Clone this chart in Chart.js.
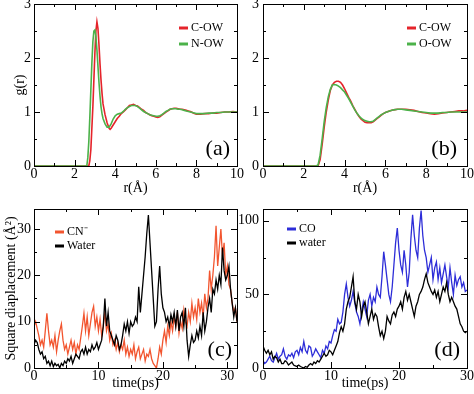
<!DOCTYPE html>
<html>
<head>
<meta charset="utf-8">
<script src="https://cdn.jsdelivr.net/npm/chart.js@4.4.0/dist/chart.umd.min.js"></script>
<style>
  html, body { margin: 0; padding: 0; background: #fff; }
  body { width: 474px; height: 394px; position: relative; overflow: hidden; }
  canvas { position: absolute; }
</style>
</head>
<body>
<canvas id="chartA" width="250" height="200" style="left:0;top:0"></canvas>
<canvas id="chartB" width="237" height="200" style="left:237px;top:0"></canvas>
<canvas id="chartC" width="250" height="194" style="left:0;top:200px"></canvas>
<canvas id="chartD" width="237" height="194" style="left:237px;top:200px"></canvas>
<script>
// Panel (a): g(r) for CN- (C-OW, N-OW)
const rA = [0, 2.6, 2.65, 2.7, 2.75, 2.8, 2.85, 2.9, 2.95, 3.0, 3.05, 3.1, 3.15, 3.2, 3.25, 3.3, 3.35, 3.4, 3.5, 3.6, 3.7, 3.75, 3.8, 3.9,
  4.0, 4.1, 4.2, 4.3, 4.4, 4.5, 4.6, 4.7, 4.8, 4.9, 5.0, 5.1, 5.2, 5.3, 5.4, 5.5, 5.6, 5.7, 5.8, 5.9, 6.0, 6.1, 6.2, 6.3, 6.4,
  6.5, 6.6, 6.7, 6.8, 6.9, 7.0, 7.1, 7.2, 7.3, 7.4, 7.5, 7.6, 7.7, 7.8, 7.9, 8.0, 8.2, 8.4, 8.6, 8.8, 9.0, 9.2, 9.4, 9.6, 9.8, 10];
const gCOW_a = [0, 0, 0, 0, 0.1, 0.3, 0.7, 1.1, 1.6, 2.1, 2.5, 2.67, 2.55, 2.25, 1.9, 1.6, 1.35, 1.15, 0.95, 0.8, 0.7, 0.68, 0.7, 0.76,
  0.82, 0.88, 0.92, 0.97, 1.0, 1.04, 1.08, 1.12, 1.13, 1.14, 1.12, 1.11, 1.08, 1.05, 1.03, 0.99, 0.97, 0.95, 0.93, 0.92, 0.91, 0.9, 0.91, 0.94, 0.97,
  1.0, 1.02, 1.05, 1.06, 1.07, 1.07, 1.06, 1.05, 1.05, 1.04, 1.03, 1.02, 1.01, 0.99, 0.97, 0.96, 0.96, 0.97, 0.97, 0.98, 0.98, 0.99, 1.0, 1.0, 1.01, 1.0];
const gNOW_a = [0, 0, 0.15, 0.45, 0.9, 1.4, 1.9, 2.3, 2.5, 2.52, 2.4, 2.15, 1.85, 1.55, 1.3, 1.1, 0.97, 0.88, 0.78, 0.72, 0.72, 0.75, 0.78, 0.87,
  0.93, 0.96, 0.97, 0.98, 1.01, 1.05, 1.08, 1.1, 1.12, 1.12, 1.12, 1.1, 1.07, 1.04, 1.01, 0.99, 0.97, 0.95, 0.94, 0.93, 0.92, 0.92, 0.93, 0.95, 0.98,
  1.01, 1.03, 1.05, 1.06, 1.06, 1.06, 1.05, 1.05, 1.04, 1.03, 1.02, 1.01, 1.0, 0.99, 0.98, 0.97, 0.97, 0.97, 0.98, 0.98, 0.99, 0.99, 1.0, 1.0, 1.0, 1.0];

// Panel (b): g(r) for CO (C-OW, O-OW)
const rB = [0, 2.6, 2.7, 2.8, 2.9, 3.0, 3.1, 3.2, 3.3, 3.4, 3.5, 3.6, 3.7, 3.8, 3.9, 4.0, 4.1, 4.2, 4.3, 4.4, 4.5, 4.6, 4.7, 4.8, 4.9,
  5.0, 5.1, 5.2, 5.3, 5.4, 5.5, 5.6, 5.7, 5.8, 5.9, 6.0, 6.2, 6.4, 6.6, 6.8, 7.0, 7.2, 7.4, 7.6, 7.8, 8.0, 8.2, 8.4, 8.6, 8.8, 9.0, 9.2, 9.4, 9.6, 9.8, 10];
const gCOW_b = [0, 0, 0, 0.12, 0.4, 0.72, 1.0, 1.22, 1.4, 1.5, 1.55, 1.57, 1.57, 1.55, 1.5, 1.43, 1.35, 1.27, 1.2, 1.12, 1.05, 0.98, 0.92, 0.87, 0.84,
  0.81, 0.8, 0.8, 0.8, 0.82, 0.85, 0.88, 0.91, 0.94, 0.97, 0.99, 1.02, 1.04, 1.05, 1.05, 1.05, 1.04, 1.03, 1.01, 0.99, 0.98, 0.97, 0.96, 0.97, 0.98, 0.99, 1.0, 1.01, 1.02, 1.02, 1.03];
const gOOW_b = [0, 0, 0.02, 0.2, 0.5, 0.82, 1.08, 1.28, 1.42, 1.5, 1.51, 1.5, 1.48, 1.45, 1.41, 1.37, 1.31, 1.25, 1.18, 1.11, 1.04, 0.98, 0.93, 0.89, 0.86,
  0.84, 0.83, 0.82, 0.82, 0.83, 0.86, 0.89, 0.92, 0.95, 0.97, 0.99, 1.02, 1.04, 1.05, 1.05, 1.04, 1.03, 1.02, 1.01, 1.0, 0.99, 0.98, 0.98, 0.98, 0.99, 0.99, 1.0, 1.0, 1.0, 1.0, 1.0];

// Panel (c): square displacement, CN- vs water (sampled every 0.25 ps)
const dtC = 0.25;
const sdCN = [9, 10, 8.5, 7, 5, 6, 4.5, 8, 11.8, 8, 5, 6, 4.5, 7, 3.5, 6, 8, 9.5, 6, 4, 5, 3, 4.5, 6, 4, 5.5, 3, 5,
  4, 6.5, 9, 11.8, 8, 11, 7, 9.5, 12, 13.3, 9, 11, 8, 10.5, 7, 9, 12, 8, 9.5, 6, 7.5, 5, 6, 4, 5.5, 3.5, 5, 4,
  6, 3, 4.5, 2.5, 4, 3, 5, 2, 3.5, 4.5, 2, 3, 4, 1.5, 3, 2.5, 4, 2, 1, 0.5, 0, 2, 4.5, 3,
  6, 8, 5.5, 9, 7, 10, 8, 11, 9, 12, 7.5, 10, 8.5, 12.5, 10, 9, 12, 10, 14, 11, 13, 10.5, 15, 12, 14, 11, 16, 13,
  15, 21, 17, 20, 24, 30.7, 22, 26, 30, 24, 27, 20, 22, 18, 17, 14, 12, 13, 10];
const sdWaterC = [5, 6, 5.5, 4, 3, 3.5, 2, 2.5, 1, 1.5, 0.5, 1.5, 0.3, 1, 0.5, 0.8, 0, 1, 0.5, 1.5, 1, 2, 1.5, 2.5, 1, 2, 3, 2.5,
  2, 3.5, 4, 3, 4.5, 3, 4, 3.5, 5, 4, 4.5, 5.5, 4, 5, 6, 9, 15, 9, 12, 8, 7, 6, 5, 7, 6, 4, 5, 7,
  9.5, 8, 10, 7.5, 10, 9, 9.5, 11, 10, 17.5, 12, 16, 20, 24, 29, 33, 27, 21, 15, 9, 10, 17, 22, 16,
  13, 12, 10, 11, 9, 11.5, 10, 12, 9, 12.5, 8, 11, 12, 9, 13, 6, 2.5, 5, 7, 5.5, 6, 8, 6.5, 9, 7, 12, 8, 10,
  13, 15, 12, 17, 16, 19, 17, 20, 18, 26, 21, 19, 20, 22, 17, 14, 11, 13, 10];

// Panel (d): square displacement, CO vs water (sampled every 0.25 ps)
const dtD = 0.25;
const sdCO = [5, 3, 4, 6, 8, 5, 4, 7, 10, 6, 8, 9, 13, 8, 6, 9, 8, 10, 7, 11, 12, 9, 14, 11, 18, 12, 10, 15,
  14, 8, 10, 13, 11, 9, 7, 12, 10, 15, 13, 18, 17, 22, 26, 25, 33, 30, 31, 38, 50, 57, 48, 42, 46, 52, 44, 38,
  35, 30, 38, 45, 40, 35, 46, 50, 42, 48, 45, 55, 50, 48, 62, 79, 70, 60, 50, 45, 55, 70, 85, 95,
  80, 70, 65, 80, 70, 55, 65, 88, 104, 90, 80, 75, 95, 107, 90, 80, 75, 65, 70, 75, 60, 68, 72, 60,
  68, 58, 64, 70, 62, 55, 68, 58, 50, 63, 56, 60, 62, 55, 58, 52, 53];
const sdWaterD = [15, 12, 10, 12, 9, 11, 6, 8, 7, 4, 6, 3, 3, 5, 4, 2, 3, 4, 2, 1.5, 1, 2, 1, 0.5, 0, 1, 0.5, 2,
  3, 2, 4, 3, 5, 4, 6, 8, 10, 8, 9, 12, 11, 9, 12, 15, 18, 24, 28, 25, 30, 40, 45, 48, 55, 62, 45, 40,
  50, 45, 35, 42, 45, 38, 30, 35, 40, 33, 37, 35, 28, 22, 25, 20, 25, 35, 32, 30, 36, 38, 35, 40,
  42, 45, 40, 48, 52, 46, 50, 45, 40, 35, 42, 45, 50, 52, 55, 60, 64, 58, 55, 52, 50, 53, 48, 52,
  45, 50, 55, 52, 58, 50, 45, 48, 45, 42, 40, 35, 30, 28, 25, 24, 25];

const FONT = '"Liberation Serif", "Times New Roman", serif';

function pairs(xs, ys) {
  return ys.map((y, i) => ({ x: xs[i], y: y }));
}
function timed(dt, ys) {
  return ys.map((y, i) => ({ x: i * dt, y: y }));
}

// Box, inward ticks on all sides, legend and panel tag (xmgrace look)
const framePlugin = {
  id: 'frame',
  afterDatasetsDraw(chart, args, opts) {
    const ctx = chart.ctx;
    const a = chart.chartArea;
    const xs = chart.scales.x;
    const ys = chart.scales.y;
    ctx.save();
    ctx.strokeStyle = '#000';
    ctx.lineWidth = 1;
    ctx.beginPath();
    const tickX = (v, len) => {
      const px = Math.round(xs.getPixelForValue(v)) + 0.5;
      ctx.moveTo(px, a.bottom); ctx.lineTo(px, a.bottom - len);
      ctx.moveTo(px, a.top); ctx.lineTo(px, a.top + len);
    };
    const tickY = (v, len) => {
      const py = Math.round(ys.getPixelForValue(v)) + 0.5;
      ctx.moveTo(a.left, py); ctx.lineTo(a.left + len, py);
      ctx.moveTo(a.right, py); ctx.lineTo(a.right - len, py);
    };
    for (let v = xs.min; v <= xs.max + 1e-9; v += opts.xMinor) tickX(v, 3);
    for (let v = ys.min; v <= ys.max + 1e-9; v += opts.yMinor) tickY(v, 3);
    xs.ticks.forEach(t => tickX(t.value, 6));
    ys.ticks.forEach(t => tickY(t.value, 6));
    ctx.stroke();
    ctx.strokeRect(a.left + 0.5, a.top + 0.5, a.right - a.left, a.bottom - a.top);

    // legend
    ctx.font = '12px ' + FONT;
    ctx.textBaseline = 'middle';
    ctx.textAlign = 'left';
    chart.data.datasets.forEach((ds, i) => {
      const x = a.left + opts.legend.x;
      const y = a.top + opts.legend.y + i * opts.legend.dy;
      ctx.strokeStyle = ds.borderColor;
      ctx.lineWidth = 3;
      ctx.beginPath();
      ctx.moveTo(x, y);
      ctx.lineTo(x + 9, y);
      ctx.stroke();
      ctx.fillStyle = '#000';
      ctx.fillText(ds.label, x + 12, y);
    });

    // panel tag
    ctx.font = '22px ' + FONT;
    ctx.textAlign = 'right';
    ctx.fillStyle = '#000';
    ctx.fillText(opts.tag, a.right - opts.tagDx, a.bottom - opts.tagDy);
    ctx.restore();
  }
};

function axis(min, max, step, title, fit) {
  return {
    type: 'linear',
    min: min,
    max: max,
    grid: { display: false, drawTicks: false },
    border: { display: false },
    ticks: {
      stepSize: step,
      includeBounds: false,
      autoSkip: false,
      maxRotation: 0,
      padding: fit.tickPad,
      color: '#000',
      font: { family: FONT, size: 14 }
    },
    title: title ? {
      display: true,
      text: title,
      color: '#000',
      font: { family: FONT, size: 14 },
      padding: fit.titlePad
    } : { display: false },
    afterFit(scale) {
      if (scale.isHorizontal()) {
        scale.height = fit.size;
        scale.paddingLeft = 0;
        scale.paddingRight = 0;
      } else {
        scale.width = fit.size;
        scale.paddingTop = 0;
        scale.paddingBottom = 0;
      }
    }
  };
}

function series(label, data, color, order, width) {
  return { label: label, data: data, borderColor: color, borderWidth: width, pointRadius: 0, fill: false, order: order };
}

function makeChart(id, datasets, cfg) {
  return new Chart(document.getElementById(id), {
    type: 'line',
    data: { datasets: datasets },
    options: {
      responsive: false,
      animation: false,
      events: [],
      layout: { padding: cfg.padding },
      elements: { line: { tension: 0 } },
      plugins: {
        legend: { display: false },
        tooltip: { enabled: false },
        frame: cfg.frame
      },
      scales: { x: cfg.x, y: cfg.y }
    },
    plugins: [framePlugin]
  });
}

const RED = '#e5242b', GREEN = '#4cb24a', ORANGE = '#f2552f', BLUE = '#2d2dd8', BLACK = '#000000';

makeChart('chartA', [
  series('C-OW', pairs(rA, gCOW_a), RED, 2, 1.6),
  series('N-OW', pairs(rA, gNOW_a), GREEN, 1, 1.6)
], {
  padding: { top: 4, right: 13, left: 0, bottom: 0 },
  x: axis(0, 10, 2, 'r(Å)', { size: 34, tickPad: 0, titlePad: { top: 0, bottom: 3 } }),
  y: axis(0, 3, 1, 'g(r)', { size: 34, tickPad: 3, titlePad: { top: 12, bottom: 0 } }),
  frame: { xMinor: 1, yMinor: 0.5, legend: { x: 145, y: 24, dy: 16 }, tag: '(a)', tagDx: 7, tagDy: 17 }
});

makeChart('chartB', [
  series('C-OW', pairs(rB, gCOW_b), RED, 2, 1.6),
  series('O-OW', pairs(rB, gOOW_b), GREEN, 1, 1.6)
], {
  padding: { top: 4, right: 7, left: 0, bottom: 0 },
  x: axis(0, 10, 2, 'r(Å)', { size: 34, tickPad: 0, titlePad: { top: 0, bottom: 3 } }),
  y: axis(0, 3, 1, null, { size: 26, tickPad: 4 }),
  frame: { xMinor: 1, yMinor: 0.5, legend: { x: 144, y: 24, dy: 16 }, tag: '(b)', tagDx: 10, tagDy: 17 }
});

makeChart('chartC', [
  series('CN⁻', timed(dtC, sdCN), ORANGE, 2, 1.3),
  series('Water', timed(dtC, sdWaterC), BLACK, 1, 1.3)
], {
  padding: { top: 9, right: 13, left: 0, bottom: 0 },
  x: axis(0, 31.5, 10, 'time(ps)', { size: 26, tickPad: 0, titlePad: { top: 0, bottom: 2 } }),
  y: axis(0, 34.3, 10, 'Square diaplacement (Å²)', { size: 34, tickPad: 3, titlePad: { top: 3, bottom: 0 } }),
  frame: { xMinor: 5, yMinor: 5, legend: { x: 21, y: 23, dy: 14 }, tag: '(c)', tagDx: 5, tagDy: 18 }
});

makeChart('chartD', [
  series('CO', timed(dtD, sdCO), BLUE, 2, 1.3),
  series('water', timed(dtD, sdWaterD), BLACK, 1, 1.3)
], {
  padding: { top: 9, right: 7, left: 0, bottom: 0 },
  x: axis(0, 30, 10, 'time(ps)', { size: 26, tickPad: 0, titlePad: { top: 0, bottom: 2 } }),
  y: axis(0, 108, 50, null, { size: 26, tickPad: 4 }),
  frame: { xMinor: 5, yMinor: 25, legend: { x: 24, y: 20, dy: 14 }, tag: '(d)', tagDx: 7, tagDy: 18 }
});
</script>
</body>
</html>
